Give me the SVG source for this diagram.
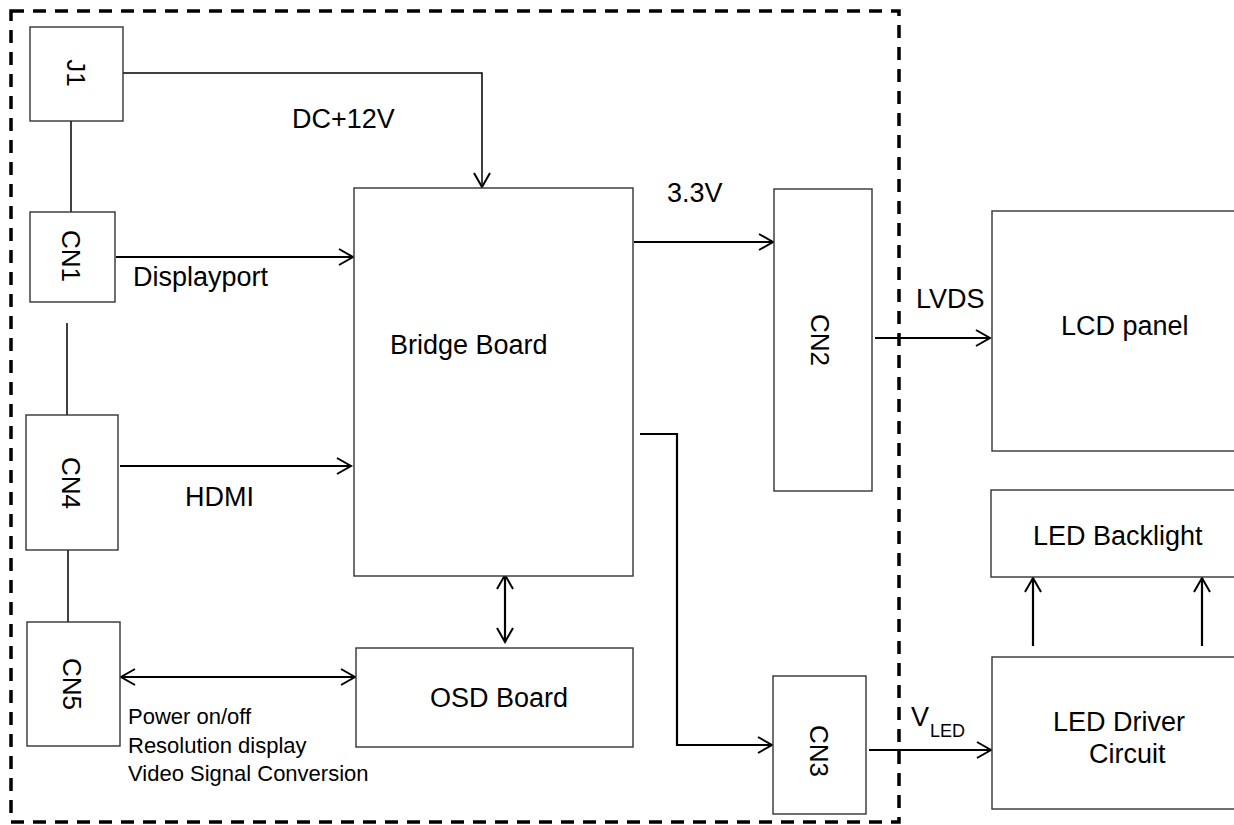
<svg xmlns="http://www.w3.org/2000/svg" width="1234" height="825" viewBox="0 0 1234 825">
<style>
.box{fill:#fff;stroke:#333;stroke-width:1.4}
.t{font-family:"Liberation Sans",Arial,sans-serif;font-size:27px;fill:#000}
.sub{font-family:"Liberation Sans",Arial,sans-serif;font-size:18px;fill:#000}
.s{font-family:"Liberation Sans",Arial,sans-serif;font-size:22px;fill:#000}
.rt{font-family:"Liberation Sans",Arial,sans-serif;font-size:26px;fill:#000;text-anchor:middle;dominant-baseline:central}
.c{fill:none;stroke:#000;stroke-width:2.2}
.thin{fill:none;stroke:#000;stroke-width:1.5}
</style>
<defs>
<marker id="arr" markerUnits="userSpaceOnUse" markerWidth="18" markerHeight="20" refX="15" refY="9" orient="auto-start-reverse" viewBox="0 0 18 20">
<path d="M1,1 L15,9 L1,17" fill="none" stroke="#000" stroke-width="2"/>
</marker>
</defs>
<rect x="0" y="0" width="1234" height="825" fill="#fff"/>
<rect id="boundary" x="11" y="11" width="888" height="811" fill="none" stroke="#000" stroke-width="3.5" stroke-dasharray="13 9"/>
<g id="connectors">
<polyline class="thin" points="123,73 482,73 482,187" marker-end="url(#arr)"/>
<line class="thin" x1="71" y1="121" x2="71" y2="212"/>
<line class="c" x1="116" y1="257" x2="353" y2="257" marker-end="url(#arr)"/>
<line class="thin" x1="67" y1="323" x2="67" y2="415"/>
<line class="c" x1="120" y1="466" x2="351" y2="466" marker-end="url(#arr)"/>
<line class="thin" x1="68" y1="549" x2="68" y2="622"/>
<line class="c" x1="121" y1="677" x2="355" y2="677" marker-start="url(#arr)" marker-end="url(#arr)"/>
<line class="c" x1="505" y1="575" x2="505" y2="642" marker-start="url(#arr)" marker-end="url(#arr)"/>
<line class="c" x1="634" y1="242" x2="773" y2="242" marker-end="url(#arr)"/>
<polyline class="c" points="640,434 677,434 677,745 772,745" marker-end="url(#arr)"/>
<line class="c" x1="875" y1="338" x2="990" y2="338" marker-end="url(#arr)"/>
<line class="c" x1="869" y1="750" x2="991" y2="750" marker-end="url(#arr)"/>
<line class="c" x1="1033" y1="646" x2="1033" y2="578" marker-end="url(#arr)"/>
<line class="c" x1="1202" y1="646" x2="1202" y2="578" marker-end="url(#arr)"/>
</g>
<g id="J1"><rect class="box" x="30" y="27" width="93" height="94"/><text class="rt" transform="rotate(90 76 73)" x="76" y="73">J1</text></g>
<g id="CN1"><rect class="box" x="30" y="212" width="85" height="90"/><text class="rt" transform="rotate(90 71 256)" x="71" y="256">CN1</text></g>
<g id="CN4"><rect class="box" x="26" y="415" width="92" height="135"/><text class="rt" transform="rotate(90 71 483)" x="71" y="483">CN4</text></g>
<g id="CN5"><rect class="box" x="27" y="622" width="93" height="124"/><text class="rt" transform="rotate(90 72 684)" x="72" y="684">CN5</text></g>
<g id="bridge"><rect class="box" x="354" y="188" width="279" height="388"/><text class="t" x="390" y="354">Bridge Board</text></g>
<g id="osd"><rect class="box" x="356" y="648" width="277" height="99"/><text class="t" x="430" y="707">OSD Board</text></g>
<g id="CN2"><rect class="box" x="774" y="189" width="98" height="302"/><text class="rt" transform="rotate(90 820 340)" x="820" y="340">CN2</text></g>
<g id="CN3"><rect class="box" x="773" y="676" width="93" height="138"/><text class="rt" transform="rotate(90 819 751)" x="819" y="751">CN3</text></g>
<g id="lcd"><rect class="box" x="992" y="211" width="260" height="240"/><text class="t" x="1061" y="335">LCD panel</text></g>
<g id="backlight"><rect class="box" x="991" y="490" width="260" height="87"/><text class="t" x="1033" y="545">LED Backlight</text></g>
<g id="driver"><rect class="box" x="992" y="657" width="260" height="152"/><text class="t" x="1053" y="731">LED Driver</text><text class="t" x="1089" y="763">Circuit</text></g>
<g id="labels">
<text class="t" x="292" y="128">DC+12V</text>
<text class="t" x="133" y="286">Displayport</text>
<text class="t" x="185" y="506">HDMI</text>
<text class="t" x="667" y="202">3.3V</text>
<text class="t" x="916" y="308">LVDS</text>
<text class="t" x="911" y="726">V</text>
<text class="sub" x="930" y="737">LED</text>
<text class="s" x="128" y="724">Power on/off</text>
<text class="s" x="128" y="753">Resolution display</text>
<text class="s" x="128" y="781">Video Signal Conversion</text>
</g>
</svg>
